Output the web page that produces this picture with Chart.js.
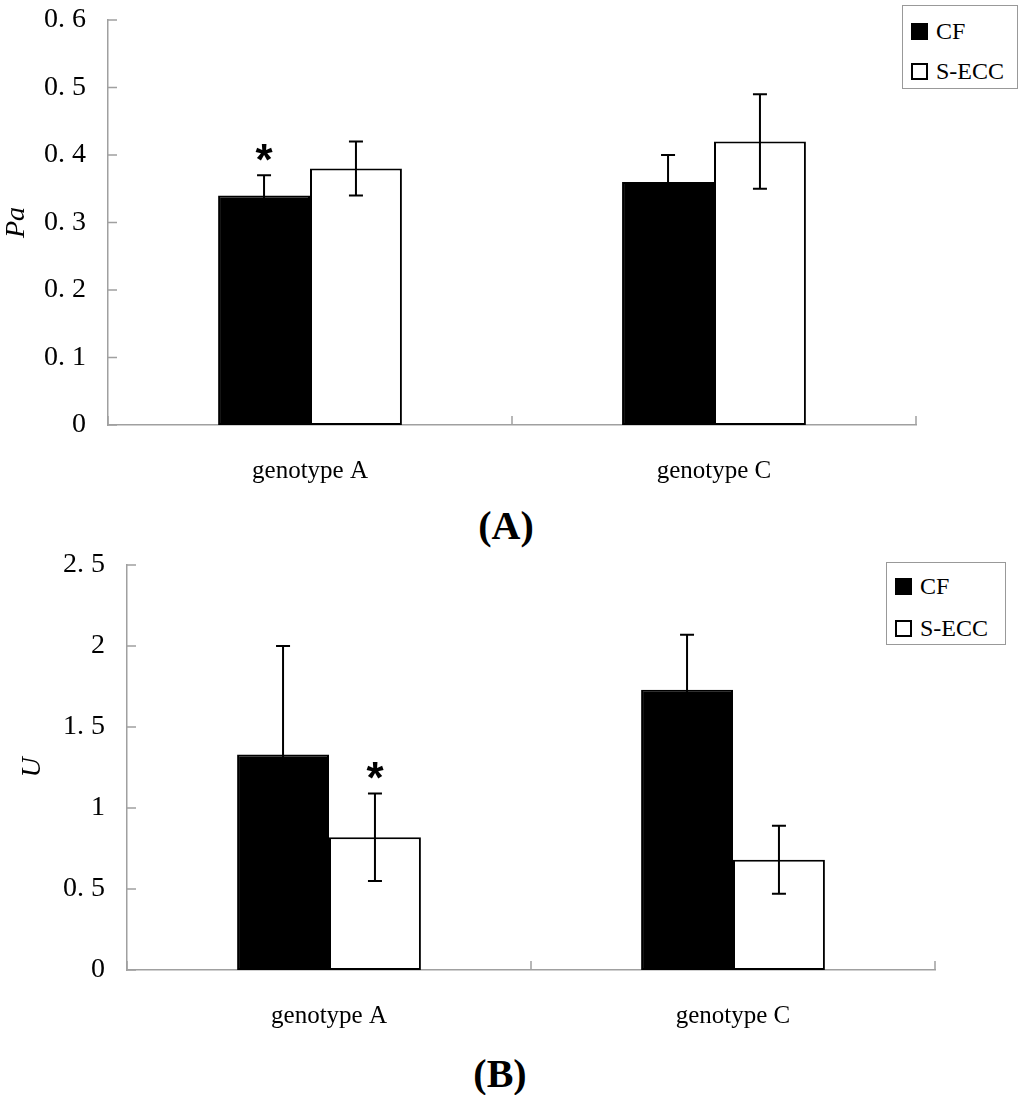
<!DOCTYPE html>
<html>
<head>
<meta charset="utf-8">
<script src="https://cdn.jsdelivr.net/npm/chart.js@4/dist/chart.umd.min.js"></script>
<style>
  body { margin: 0; background: #fff; }
  #page { position: relative; width: 1024px; height: 1095px; overflow: hidden; }
  .panel { position: absolute; left: 0; width: 1024px; height: 490px; }
  .legend { position: absolute; border: 1px solid #999; background: #fff;
            font-family: "Liberation Serif", serif; font-size: 24px; color: #000; }
  .legend .row { position: absolute; left: 8px; display: flex; align-items: center; height: 26px; }
  .legend .sw { width: 17px; height: 17px; box-sizing: border-box; margin-right: 8px; }
  .caption { position: absolute; width: 1024px; text-align: center;
             font-family: "Liberation Serif", serif; font-weight: bold; font-size: 40px; }
</style>
</head>
<body>
<div id="page">
  <div class="panel" style="top:0"><canvas id="chartPa"></canvas></div>
  <div class="legend" style="left:902px; top:5px; width:114px; height:82px">
    <div class="row" style="top:12px"><div class="sw" style="background:#000"></div>CF</div>
    <div class="row" style="top:52px"><div class="sw" style="background:#fff; border:2px solid #000"></div>S-ECC</div>
  </div>
  <div class="caption" style="top:502px; left:-6px">(A)</div>

  <div class="panel" style="top:545px"><canvas id="chartU"></canvas></div>
  <div class="legend" style="left:886px; top:562px; width:118px; height:81px">
    <div class="row" style="top:10px"><div class="sw" style="background:#000"></div>CF</div>
    <div class="row" style="top:52px"><div class="sw" style="background:#fff; border:2px solid #000"></div>S-ECC</div>
  </div>
  <div class="caption" style="top:1050px; left:-12px">(B)</div>
</div>
<script>
const categories = ['genotype A', 'genotype C'];
const seriesNames = ['CF', 'S-ECC'];

// panel A: Pa
const paCF = [0.34, 0.36];
const paCFErr = [0.03, 0.04];
const paSECC = [0.38, 0.42];
const paSECCErr = [0.04, 0.07];
const paTicks = [0, 0.1, 0.2, 0.3, 0.4, 0.5, 0.6];
const paTickLabels = ['0', '0. 1', '0. 2', '0. 3', '0. 4', '0. 5', '0. 6'];
const paStars = [[0, 0]]; // [series, category]

// panel B: U
const uCF = [1.33, 1.73];
const uCFErr = [0.67, 0.34];
const uSECC = [0.82, 0.68];
const uSECCErr = [0.27, 0.21];
const uTicks = [0, 0.5, 1, 1.5, 2, 2.5];
const uTickLabels = ['0', '0. 5', '1', '1. 5', '2', '2. 5'];
const uStars = [[1, 0]];

const axisColor = '#a0a0a0';

// error bars, asterisks and the inward tick marks
const extrasPlugin = {
  id: 'extras',
  afterDatasetsDraw(chart) {
    const ctx = chart.ctx;
    const y = chart.scales.y;
    ctx.save();
    ctx.strokeStyle = '#000';
    ctx.lineWidth = 2;
    chart.data.datasets.forEach((ds, i) => {
      chart.getDatasetMeta(i).data.forEach((bar, j) => {
        const top = y.getPixelForValue(ds.data[j] + ds.errors[j]);
        const bot = y.getPixelForValue(ds.data[j] - ds.errors[j]);
        ctx.beginPath();
        ctx.moveTo(bar.x, top); ctx.lineTo(bar.x, bot);
        ctx.moveTo(bar.x - 7, top); ctx.lineTo(bar.x + 7, top);
        ctx.moveTo(bar.x - 7, bot); ctx.lineTo(bar.x + 7, bot);
        ctx.stroke();
      });
    });
    ctx.fillStyle = '#000';
    ctx.font = 'bold 44px "Liberation Sans"';
    ctx.textAlign = 'center';
    ctx.textBaseline = 'alphabetic';
    chart.options.stars.forEach(([s, c]) => {
      const ds = chart.data.datasets[s];
      const bar = chart.getDatasetMeta(s).data[c];
      const top = y.getPixelForValue(ds.data[c] + ds.errors[c]);
      ctx.fillText('*', bar.x, top);
    });
    ctx.restore();
  },
  afterDraw(chart) {
    const ctx = chart.ctx;
    const {x, y} = chart.scales;
    const area = chart.chartArea;
    ctx.save();
    ctx.strokeStyle = axisColor;
    ctx.lineWidth = 1.5;
    ctx.beginPath();
    y.ticks.forEach(t => {
      const py = y.getPixelForValue(t.value);
      ctx.moveTo(area.left, py); ctx.lineTo(area.left + 9, py);
    });
    const mid = (x.getPixelForValue(0) + x.getPixelForValue(1)) / 2;
    [area.left, mid, area.right].forEach(px => {
      ctx.moveTo(px, area.bottom); ctx.lineTo(px, area.bottom - 9);
    });
    ctx.stroke();
    ctx.restore();
  }
};

function makeChart(id, cf, cfErr, secc, seccErr, ticks, tickLabels, title, titlePad, leftW, stars) {
  const ctx = document.getElementById(id).getContext('2d');
  return new Chart(ctx, {
    type: 'bar',
    data: {
      labels: categories,
      datasets: [
        { label: seriesNames[0], data: cf, errors: cfErr, backgroundColor: '#000',
          borderColor: '#000', borderWidth: 2, borderSkipped: false },
        { label: seriesNames[1], data: secc, errors: seccErr, backgroundColor: '#fff',
          borderColor: '#000', borderWidth: 2, borderSkipped: false }
      ]
    },
    options: {
      responsive: true,
      maintainAspectRatio: false,
      animation: false,
      stars: stars,
      layout: { padding: { top: 20, right: 1024 - leftW - 808, left: 0, bottom: 0 } },
      datasets: { bar: { categoryPercentage: 0.455, barPercentage: 1 } },
      scales: {
        x: {
          grid: { display: false, drawTicks: false },
          border: { display: true, color: axisColor, width: 1.5 },
          ticks: { color: '#000', padding: 31, font: { family: '"Liberation Serif"', size: 25 } },
          afterFit: s => { s.height = 65; }
        },
        y: {
          min: ticks[0],
          max: ticks[ticks.length - 1],
          afterBuildTicks: s => { s.ticks = ticks.map(v => ({value: v})); },
          grid: { display: false, drawTicks: false },
          border: { display: true, color: axisColor, width: 1.5 },
          ticks: {
            color: '#000', padding: 22,
            font: { family: '"Liberation Serif"', size: 28 },
            callback: (v, i) => tickLabels[i]
          },
          title: {
            display: true, text: title, color: '#000',
            padding: { top: titlePad, bottom: 0 },
            font: { family: '"Liberation Serif"', size: 28, style: 'italic' }
          },
          afterFit: s => { s.width = leftW; s.paddingTop = 0; s.paddingBottom = 0; }
        }
      },
      plugins: { legend: { display: false }, tooltip: { enabled: false } }
    },
    plugins: [extrasPlugin]
  });
}

makeChart('chartPa', paCF, paCFErr, paSECC, paSECCErr, paTicks, paTickLabels, 'Pa', 0, 108, paStars);
makeChart('chartU', uCF, uCFErr, uSECC, uSECCErr, uTicks, uTickLabels, 'U', 16, 127, uStars);
</script>
</body>
</html>
